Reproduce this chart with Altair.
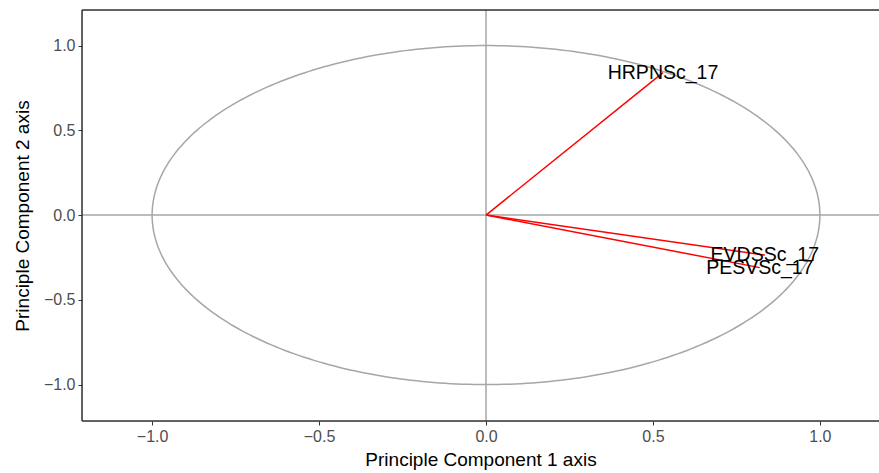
import altair as alt
import numpy as np
import pandas as pd

# Variable loadings (end points of arrows)
variables = ["HRPNSc_17", "EVDSSc_17", "PESVSc_17"]
pc1 = [0.53, 0.835, 0.82]
pc2 = [0.84, -0.236, -0.31]

# Axis ticks
ticks = [-1.0, -0.5, 0.0, 0.5, 1.0]

x_domain = [-1.21, 1.177]
y_domain = [-1.215, 1.21]

arrows = pd.DataFrame({"var": variables, "x0": 0.0, "y0": 0.0, "x": pc1, "y": pc2})

# unit circle (reference shape)
t = np.linspace(0, 2 * np.pi, 361)
circle = pd.DataFrame({"cx": np.cos(t), "cy": np.sin(t), "i": np.arange(len(t))})

font = "Liberation Sans"
xs = alt.Scale(domain=x_domain, nice=False, zero=False)
ys = alt.Scale(domain=y_domain, nice=False, zero=False)

xaxis = alt.Axis(values=ticks, format=".1f", grid=False, domain=False, tickColor="#333333",
                 tickSize=4, labelColor="#4D4D4D", labelFontSize=16, labelFont=font,
                 labelPadding=3, title="Principle Component 1 axis", titleFont=font,
                 titleFontSize=19, titleFontWeight="normal", titleColor="black", titlePadding=6)
yaxis = alt.Axis(values=ticks, format=".1f", grid=False, domain=False, tickColor="#333333",
                 tickSize=4, labelColor="#4D4D4D", labelFontSize=16, labelFont=font,
                 labelPadding=3, title="Principle Component 2 axis", titleFont=font,
                 titleFontSize=19, titleFontWeight="normal", titleColor="black", titlePadding=11)

circ = alt.Chart(circle).mark_line(color="#A6A6A6", strokeWidth=1.5).encode(
    x=alt.X("cx:Q", scale=xs, axis=xaxis),
    y=alt.Y("cy:Q", scale=ys, axis=yaxis),
    order="i:Q",
)

zero = pd.DataFrame({"z": [0.0]})
vline = alt.Chart(zero).mark_rule(color="#A6A6A6", strokeWidth=1.5).encode(x=alt.X("z:Q", scale=xs))
hline = alt.Chart(zero).mark_rule(color="#A6A6A6", strokeWidth=1.5).encode(y=alt.Y("z:Q", scale=ys))

segs = alt.Chart(arrows).mark_rule(color="red", strokeWidth=1.5).encode(
    x=alt.X("x0:Q", scale=xs), y=alt.Y("y0:Q", scale=ys), x2="x:Q", y2="y:Q"
)
labels = alt.Chart(arrows).mark_text(font=font, fontSize=19.5, color="black", align="center",
                                     baseline="middle").encode(
    x=alt.X("x:Q", scale=xs), y=alt.Y("y:Q", scale=ys), text="var:N"
)

# panel borders: left, bottom, top
border = alt.Chart(pd.DataFrame({"a": [0]})).mark_rule(color="#333333", strokeWidth=1.5)
left_b = border.encode(x=alt.value(0), y=alt.value(0), y2=alt.value(411))
bot_b = border.encode(x=alt.value(0), x2=alt.value(797), y=alt.value(411))
top_b = border.encode(x=alt.value(0), x2=alt.value(797), y=alt.value(0))

chart = alt.layer(vline, hline, circ, segs, labels, left_b, bot_b, top_b).properties(
    width=797, height=411,
    padding={"left": 82, "top": 10, "right": 0, "bottom": 52},
    autosize=alt.AutoSizeParams(type="none"),
).configure_view(stroke=None).configure(background="white")

chart.save("out.html", embed_options={"renderer": "svg", "actions": False})
